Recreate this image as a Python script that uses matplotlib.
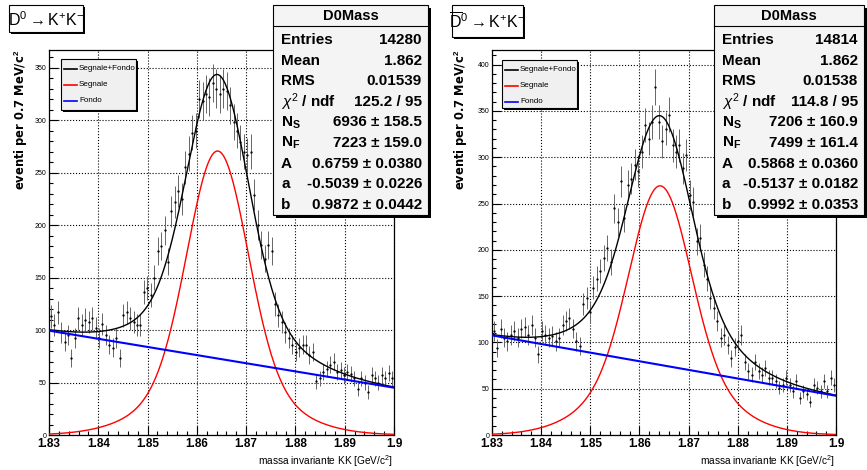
import numpy as np
import matplotlib
matplotlib.use("Agg")
import matplotlib.pyplot as plt
from matplotlib.patches import Rectangle
from matplotlib.lines import Line2D
from matplotlib.ticker import MultipleLocator, FuncFormatter

plt.rcParams["font.family"] = ["Liberation Sans", "DejaVu Sans"]
plt.rcParams["mathtext.fontset"] = "custom"
plt.rcParams["mathtext.rm"] = "Liberation Sans"
plt.rcParams["mathtext.bf"] = "Liberation Sans:bold"
plt.rcParams["mathtext.it"] = "Liberation Sans:italic"

W, H = 867, 470

# 100 bins of 0.7 MeV in the KK invariant mass
m_lo, m_hi, n_bins = 1.83, 1.90, 100
bin_w = (m_hi - m_lo) / n_bins
centers = m_lo + bin_w * (np.arange(n_bins) + 0.5)

counts_d0 = [113, 105, 117, 98, 89, 95, 73, 92, 111, 105,
             110, 108, 111, 102, 92, 106, 95, 86, 83, 92,
             73, 114, 117, 111, 108, 105, 105, 136, 140, 133,
             150, 175, 180, 195, 165, 213, 222, 232, 225, 255,
             268, 288, 290, 320, 318, 325, 322, 335, 330, 325,
             330, 328, 314, 298, 290, 279, 270, 267, 270, 229,
             200, 181, 168, 181, 175, 125, 114, 108, 98, 92,
             86, 79, 83, 86, 86, 76, 79, 51, 54, 60,
             63, 67, 70, 60, 62, 57, 60, 58, 54, 44,
             54, 50, 41, 57, 54, 50, 57, 54, 59, 54]

counts_d0bar = [112, 94, 115, 105, 101, 108, 112, 105, 115, 117,
                108, 119, 105, 87, 112, 108, 105, 107, 101, 105,
                119, 123, 126, 115, 101, 96, 141, 148, 133, 159,
                169, 177, 191, 202, 187, 245, 230, 274, 234, 270,
                277, 292, 285, 306, 335, 320, 338, 376, 338, 317,
                331, 346, 313, 306, 313, 288, 302, 259, 252, 209,
                213, 184, 169, 148, 137, 123, 105, 108, 97, 83,
                95, 101, 108, 79, 69, 65, 79, 69, 65, 72,
                62, 62, 58, 51, 54, 62, 54, 47, 58, 40,
                47, 44, 36, 54, 51, 47, 58, 47, 62, 54]

titles = [r"D$^{0}\rightarrow$K$^{+}$K$^{-}$",
          r"$\overline{\mathrm{D}}^{0}\rightarrow$K$^{+}$K$^{-}$"]

# fit results: double gaussian signal + linear background
n_sig = [6936, 7206]
n_sig_err = [158.5, 160.9]
n_bkg = [7223, 7499]
n_bkg_err = [159.0, 161.4]
frac_a = [0.6759, 0.5868]
frac_a_err = [0.0380, 0.0360]
par_a = [-0.5039, -0.5137]
par_a_err = [0.0226, 0.0182]
par_b = [0.9872, 0.9992]
par_b_err = [0.0442, 0.0353]
sig_mean = [1.8642, 1.8642]
sig_w1 = [0.0060, 0.0060]
sig_w2 = [0.0120, 0.0115]
bkg_slope = [-0.376, -0.435]

entries = [14280, 14814]
hist_mean = [1.862, 1.862]
hist_rms = [0.01539, 0.01538]
chi2 = [125.2, 114.8]
ndf = [95, 95]
y_max = [366.7, 415.8]


def fx(x):
    return x / W


def fy(y):
    return 1 - y / H


def pave(fig, x0, y0, x1, y1, face="white", shadow=2):
    fig.add_artist(Rectangle((fx(x0 + shadow), fy(y1 + shadow)), fx(x1 - x0), (y1 - y0) / H,
                             transform=fig.transFigure, facecolor="black", edgecolor="black", lw=0))
    fig.add_artist(Rectangle((fx(x0), fy(y1)), fx(x1 - x0), (y1 - y0) / H,
                             transform=fig.transFigure, facecolor=face, edgecolor="black", lw=0.8))


def gauss(x, m, s):
    return np.exp(-0.5 * ((x - m) / s) ** 2) / (np.sqrt(2 * np.pi) * s)


fig = plt.figure(figsize=(W / 100, H / 100), dpi=100)

panels = [dict(ax_x=49, ax_w=345, title_box=(9, 5, 83, 32), ylab_x=21,
               stat_box=(273, 5, 428, 215), leg_box=(61, 59, 136, 110)),
          dict(ax_x=492, ax_w=344, title_box=(452, 5, 523, 37), ylab_x=461,
               stat_box=(714, 5, 864, 215), leg_box=(502, 60, 577, 108))]

xs = np.linspace(m_lo, m_hi, 600)

for k, (p, counts) in enumerate(zip(panels, [counts_d0, counts_d0bar])):
    ax = fig.add_axes([fx(p["ax_x"]), fy(435), fx(p["ax_w"]), 385 / H])
    c = np.array(counts, dtype=float)

    sig = n_sig[k] * bin_w * (frac_a[k] * gauss(xs, sig_mean[k], sig_w1[k])
                              + (1 - frac_a[k]) * gauss(xs, sig_mean[k], sig_w2[k]))
    t = (2 * xs - m_lo - m_hi) / (m_hi - m_lo)
    bkg = n_bkg[k] / n_bins * (1 + bkg_slope[k] * t)

    ax.vlines(centers, c - np.sqrt(c), c + np.sqrt(c), color="0.4", lw=0.7, zorder=2)
    ax.plot(centers, c, ".", ms=1.3, color="black", zorder=3)
    ax.plot(xs, sig + bkg, color="black", lw=1.0, zorder=4)
    ax.plot(xs, sig, color="red", lw=1.0, zorder=4)
    ax.plot(xs, bkg, color="blue", lw=1.5, zorder=4)

    ax.set_xlim(m_lo, m_hi)
    ax.set_ylim(0, y_max[k])
    ax.xaxis.set_major_locator(MultipleLocator(0.01))
    ax.xaxis.set_minor_locator(MultipleLocator(0.002))
    ax.yaxis.set_major_locator(MultipleLocator(50))
    ax.yaxis.set_minor_locator(MultipleLocator(10))
    ax.xaxis.set_major_formatter(FuncFormatter(lambda v, pos: f"{v:.2f}".rstrip("0")))
    ax.yaxis.set_major_formatter(FuncFormatter(lambda v, pos: f"{v:.0f}"))
    ax.tick_params(which="both", direction="in", top=False, right=False)
    ax.tick_params(which="major", length=6.5, width=0.8)
    ax.tick_params(which="minor", length=3, width=0.8)
    ax.tick_params(axis="x", labelsize=8.5, pad=2)
    ax.tick_params(axis="y", labelsize=5, pad=2)
    for lab in ax.get_xticklabels():
        lab.set_fontweight("bold")
    ax.grid(True, which="major", ls=":", color="black", lw=0.8)
    for s in ax.spines.values():
        s.set_linewidth(0.9)

    # axis titles
    fig.text(fx(p["ylab_x"]), fy(50), r"eventi per 0.7 MeV/c$^{\mathbf{2}}$", rotation=90,
             ha="center", va="top", fontsize=8.3, fontweight="bold",
             family=["DejaVu Sans"])
    fig.text(fx(p["ax_x"] + p["ax_w"] - 1), fy(461), r"massa invariante KK [GeV/c$^{2}$]",
             ha="right", va="center", fontsize=7.3)

    # decay title
    x0, y0, x1, y1 = p["title_box"]
    pave(fig, x0, y0, x1, y1)
    fig.text(fx((x0 + x1) / 2), fy((y0 + y1) / 2 + 1), titles[k], ha="center", va="center",
             fontsize=11.5)

    # legend
    x0, y0, x1, y1 = p["leg_box"]
    pave(fig, x0, y0, x1, y1, face="#f0f0f0")
    for j, (lab, col) in enumerate(zip(["Segnale+Fondo", "Segnale", "Fondo"],
                                       ["black", "red", "blue"])):
        yy = y0 + 9.5 + j * 16
        fig.add_artist(Line2D([fx(x0 + 3), fx(x0 + 16)], [fy(yy), fy(yy)],
                              transform=fig.transFigure, color=col, lw=1.2))
        fig.text(fx(x0 + 18), fy(yy), lab, ha="left", va="center", fontsize=5.8)

    # statistics box
    x0, y0, x1, y1 = p["stat_box"]
    pave(fig, x0, y0, x1, y1, face="#f4f4f4", shadow=3)
    fig.add_artist(Line2D([fx(x0), fx(x1)], [fy(26), fy(26)], transform=fig.transFigure,
                          color="black", lw=0.8))
    fig.text(fx((x0 + x1) / 2), fy(16), "D0Mass", ha="center", va="center",
             fontsize=10.5, fontweight="bold")
    labels = ["Entries", "Mean", "RMS", r"$\chi^{2}$ / ndf", r"N$_{\mathbf{S}}$",
              r"N$_{\mathbf{F}}$", "A", "a", "b"]
    values = [f"{entries[k]}", f"{hist_mean[k]:.3f}", f"{hist_rms[k]:.5f}",
              f"{chi2[k]:.1f} / {ndf[k]}",
              f"{n_sig[k]} \u00b1 {n_sig_err[k]:.1f}",
              f"{n_bkg[k]} \u00b1 {n_bkg_err[k]:.1f}",
              f"{frac_a[k]:.4f} \u00b1 {frac_a_err[k]:.4f}",
              f"{par_a[k]:.4f} \u00b1 {par_a_err[k]:.4f}",
              f"{par_b[k]:.4f} \u00b1 {par_b_err[k]:.4f}"]
    for j, (lab, val) in enumerate(zip(labels, values)):
        yy = 40 + j * 20.6
        fig.text(fx(x0 + 8), fy(yy), lab, ha="left", va="center", fontsize=11, fontweight="bold")
        fig.text(fx(x1 - 6), fy(yy), val, ha="right", va="center", fontsize=11, fontweight="bold")

fig.savefig("out.png", dpi=100)
